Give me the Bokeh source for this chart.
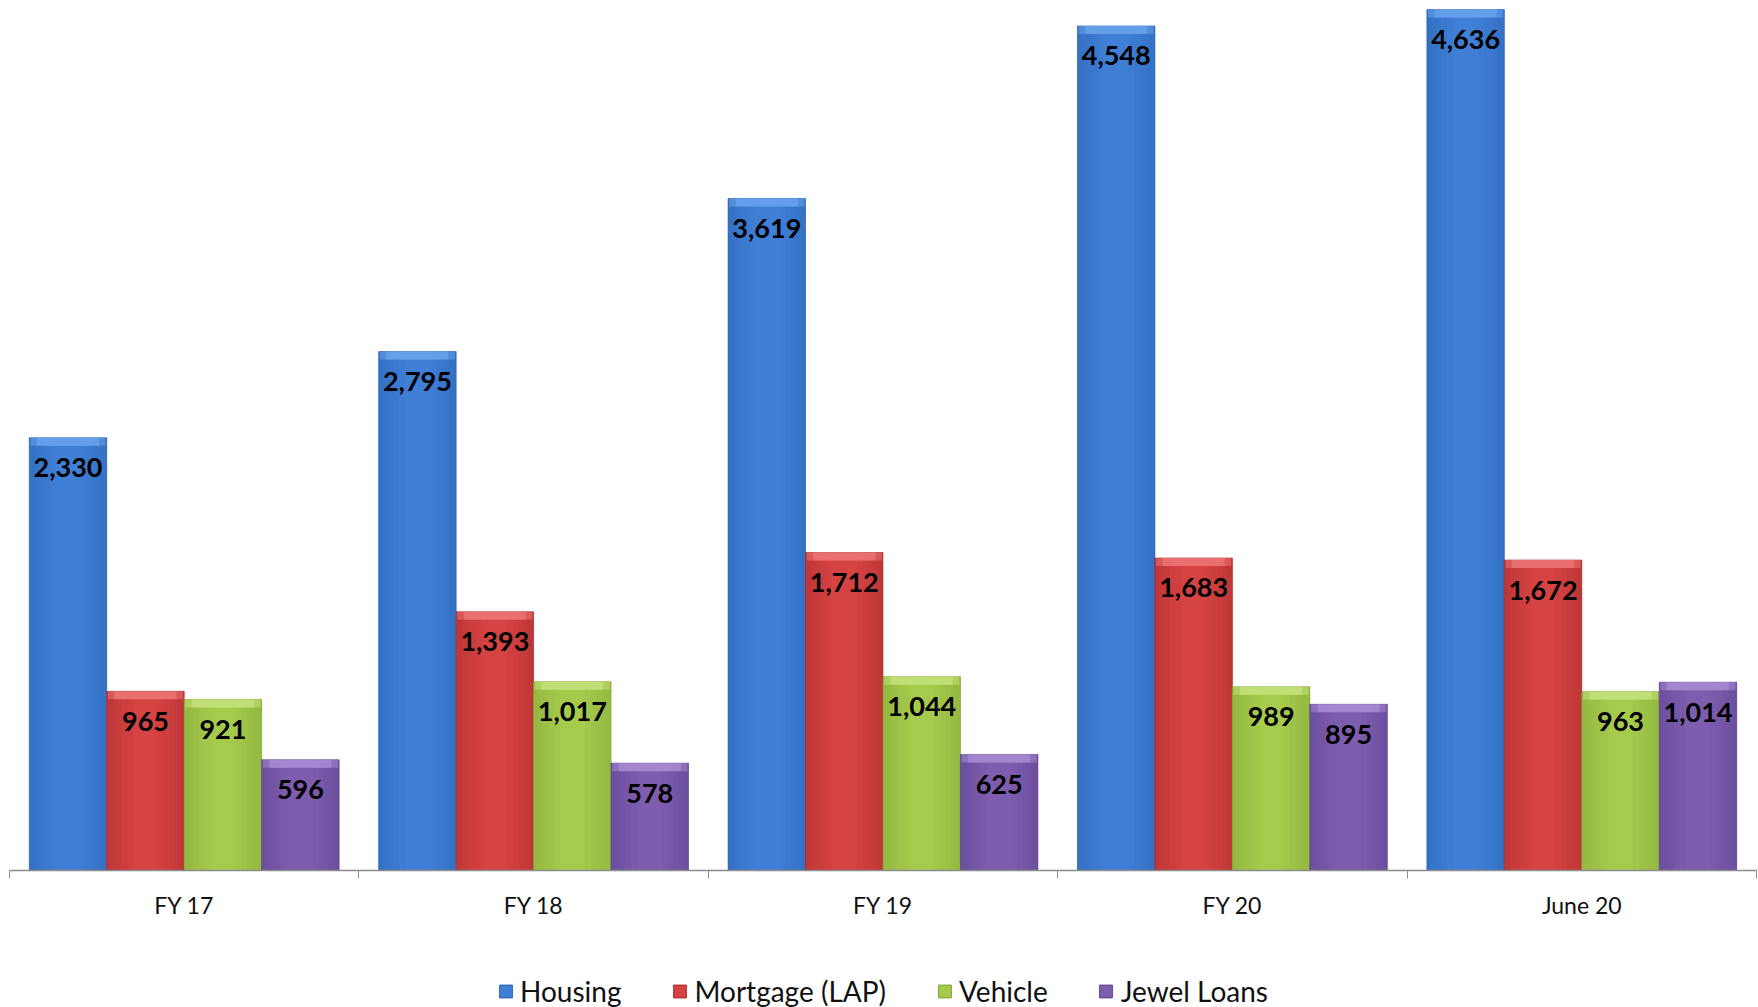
from bokeh.plotting import figure
from bokeh.layouts import column
from bokeh.models import ColumnDataSource, FixedTicker, Legend, LegendItem, Range1d
from bokeh.transform import dodge
from bokeh.core.properties import value
from bokeh.embed import file_html
from bokeh.resources import INLINE

# Loan book by product (Rs. crore)
categories = ["FY 17", "FY 18", "FY 19", "FY 20", "June 20"]
series_names = ["Housing", "Mortgage (LAP)", "Vehicle", "Jewel Loans"]
housing = [2330, 2795, 3619, 4548, 4636]
mortgage = [965, 1393, 1712, 1683, 1672]
vehicle = [921, 1017, 1044, 989, 963]
jewel_loans = [596, 578, 625, 895, 1014]
series_values = [housing, mortgage, vehicle, jewel_loans]

# body, darker edge and lighter top-bevel colour for each series
main_colors = ["#3F7FD6", "#D64343", "#A5CA4C", "#7F5DAE"]
edge_colors = ["#2B60AC", "#A62D2D", "#80A535", "#5E4290"]
bevel_colors = ["#6AA2EB", "#EC7474", "#C4E17C", "#A78AD3"]

FRAME_W, FRAME_H = 1747, 870
Y_MAX = 4685
BAR_W = 0.2217                       # bar width as a fraction of one category
BEVEL = 8 * Y_MAX / FRAME_H          # 8 px bevel expressed in data units
FONT = "Lato"

centers = [i + 0.5 for i in range(len(categories))]

p = figure(
    frame_width=FRAME_W, frame_height=FRAME_H,
    x_range=Range1d(0, len(categories)), y_range=Range1d(0, Y_MAX),
    y_axis_location=None, toolbar_location=None, output_backend="svg",
    min_border_left=9, min_border_right=2, min_border_top=0, min_border_bottom=0,
    outline_line_color=None, background_fill_color="white",
    border_fill_color="white",
)
p.grid.visible = False

for k, vals in enumerate(series_values):
    src = ColumnDataSource(dict(
        x=centers,
        top=vals,
        bevel=[v - BEVEL for v in vals],
        label=[f"{v:,}" for v in vals],
    ))
    off = (k - 1.5) * BAR_W
    main, edge, bevel = main_colors[k], edge_colors[k], bevel_colors[k]

    p.vbar(x=dodge("x", off, range=p.x_range), top="top", bottom=0,
           width=BAR_W, fill_color=main, line_color=edge, line_width=1,
           line_alpha=0.6, source=src)

    # soft darker shading toward both vertical edges
    for frac in [0.34, 0.26, 0.19, 0.13, 0.08, 0.04]:
        w = BAR_W * frac
        for side in (-1, 1):
            p.vbar(x=dodge("x", off + side * (BAR_W / 2 - w / 2), range=p.x_range),
                   top="top", bottom=0, width=w, fill_color=edge,
                   fill_alpha=0.09, line_color=None, source=src)
    # lighter bevel strip along the top
    p.vbar(x=dodge("x", off, range=p.x_range), top="top", bottom="bevel",
           width=BAR_W * 0.97, fill_color=bevel, fill_alpha=0.55,
           line_color=None, source=src)
    p.vbar(x=dodge("x", off, range=p.x_range), top="top", bottom="bevel",
           width=BAR_W * 0.80, fill_color=bevel, fill_alpha=0.8,
           line_color=None, source=src)

    p.text(x=dodge("x", off, range=p.x_range), y="top", text="label",
           y_offset=30, text_align="center", text_baseline="middle",
           text_font=value(FONT), text_font_style="bold", text_font_size="27px",
           text_color="black", source=src)

ax = p.xaxis[0]
ax.ticker = FixedTicker(ticks=centers, minor_ticks=list(range(len(categories) + 1)))
ax.major_label_overrides = {c: name for c, name in zip(centers, categories)}
ax.major_tick_out = 0
ax.major_tick_in = 0
ax.minor_tick_out = 8
ax.minor_tick_in = 0
ax.minor_tick_line_color = "#8c8c8c"
ax.axis_line_color = "#8c8c8c"
ax.axis_line_width = 1.3
ax.major_label_text_font = FONT
ax.major_label_text_font_size = "23px"
ax.major_label_text_color = "#111111"
ax.major_label_standoff = 12

# legend strip underneath the chart; its swatch bars sit below the visible range
lg = figure(
    width=1758, height=89, x_range=Range1d(0, 1), y_range=Range1d(1, 2),
    x_axis_location=None, y_axis_location=None, toolbar_location=None,
    output_backend="svg", outline_line_color=None, min_border=0,
)
lg.grid.visible = False
swatches = [
    lg.vbar(x=[0.5], top=[0], bottom=[0], width=0.1, fill_color=main_colors[k],
            line_color=edge_colors[k], line_width=1)
    for k in range(len(series_names))
]
legend = Legend(
    items=[LegendItem(label=n, renderers=[r]) for n, r in zip(series_names, swatches)],
    orientation="horizontal", location="top_center",
    label_text_font=FONT, label_text_font_size="28px", label_text_color="#111111",
    glyph_width=16, glyph_height=16, label_standoff=7, spacing=50,
    border_line_color=None, background_fill_alpha=0, padding=0, margin=53,
)
lg.add_layout(legend, "center")

with open("out.html", "w") as f:
    f.write(file_html(column(p, lg, spacing=0), INLINE))
